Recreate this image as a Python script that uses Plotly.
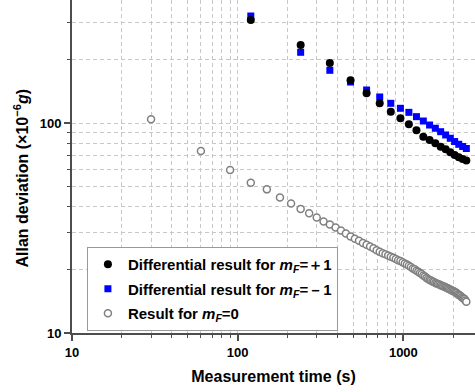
import plotly.graph_objects as go

# Measurement times (s)
tau_diff = [120, 240, 360, 480, 600, 720, 840, 960, 1080, 1200,
            1320, 1440, 1560, 1680, 1800, 1920, 2040, 2160, 2280, 2400]
tau_zero = [30 * (i + 1) for i in range(80)]

# Allan deviation (x1e-6 g)
adev_plus1 = [309.4, 235.2, 193.1, 159.7, 138.5, 124.1, 113.2, 105.3, 98.6, 92.3,
              86.1, 83.0, 80.0, 77.1, 74.9, 72.5, 70.4, 68.6, 67.4, 66.3]
adev_minus1 = [323.2, 217.1, 178.2, 156.7, 143.6, 133.0, 124.1, 117.5, 112.4, 107.2,
               102.2, 97.8, 94.4, 90.9, 87.7, 84.6, 81.6, 79.2, 77.3, 75.6]
adev_zero = [104.1, 73.6, 59.7, 52.0, 48.3, 44.2, 41.4, 39.0, 37.2, 35.5,
             34.0, 32.9, 31.8, 30.8, 29.8, 28.8, 28.1, 27.5, 26.8, 26.3,
             25.8, 25.3, 24.8, 24.4, 24.0, 23.7, 23.4, 23.1, 22.8, 22.5,
             22.2, 22.0, 21.7, 21.4, 21.2, 20.9, 20.6, 20.3, 20.1, 19.8,
             19.6, 19.3, 19.1, 18.8, 18.6, 18.3, 18.1, 17.9, 17.8, 17.6,
             17.5, 17.3, 17.2, 17.1, 17.0, 16.9, 16.8, 16.7, 16.6, 16.5,
             16.4, 16.3, 16.2, 16.1, 16.0, 15.9, 15.8, 15.7, 15.6, 15.5,
             15.3, 15.2, 15.1, 15.0, 14.8, 14.7, 14.6, 14.5, 14.3, 14.1]

names = ["Differential result for <i>m</i><sub><i>F</i></sub>=\uff0b1",
         "Differential result for <i>m</i><sub><i>F</i></sub>=\uff0d1",
         "Result for <i>m</i><sub><i>F</i></sub>=0"]

FONT = "Liberation Sans, Arial, sans-serif"

fig = go.Figure()
fig.add_trace(go.Scatter(x=tau_zero, y=adev_zero, mode="markers", name=names[2],
                         legendgroup="c", legendrank=3,
                         marker=dict(symbol="circle", size=7, color="white",
                                     line=dict(color="#808080", width=1.5))))
fig.add_trace(go.Scatter(x=tau_diff, y=adev_minus1, mode="markers", name=names[1],
                         legendgroup="b", legendrank=2,
                         marker=dict(symbol="square", size=7, color="#0000ff",
                                     line=dict(width=0))))
fig.add_trace(go.Scatter(x=tau_diff, y=adev_plus1, mode="markers", name=names[0],
                         legendgroup="a", legendrank=1,
                         marker=dict(symbol="circle", size=8, color="#000000",
                                     line=dict(width=0))))

axis_common = dict(
    type="log", showline=True, linecolor="#4d4d4d", linewidth=2,
    ticks="outside", ticklen=6, tickwidth=1.5, tickcolor="#4d4d4d",
    tickmode="linear", tick0=0, dtick=1, exponentformat="none",
    showgrid=True, gridcolor="#c8c8c8", gridwidth=1, griddash="4px,3px",
    tickfont=dict(family=FONT, size=13, color="black", weight="bold"),
    zeroline=False, automargin=False,
    minor=dict(dtick="D1", ticks="outside", ticklen=3, tickwidth=1,
               tickcolor="#4d4d4d", showgrid=True, gridcolor="#c8c8c8",
               gridwidth=1, griddash="4px,3px"),
)

fig.update_xaxes(range=[1, 3.4325],
                 title=dict(text="Measurement time (s)", standoff=12,
                            font=dict(family=FONT, size=16, color="black", weight="bold")),
                 **axis_common)
fig.update_yaxes(range=[1, 2.5857], **axis_common)

fig.add_annotation(text="Allan deviation (\u00d710<sup>\u22126</sup><i>g</i>)",
                   xref="paper", yref="paper", x=0, y=0.464, xshift=-50,
                   xanchor="center", yanchor="middle", textangle=-90, showarrow=False,
                   font=dict(family=FONT, size=16, color="black", weight="bold"))

fig.update_layout(
    width=475, height=392,
    margin=dict(l=72, r=0, t=0, b=59, autoexpand=False),
    paper_bgcolor="white", plot_bgcolor="white",
    showlegend=True,
    legend=dict(x=0.037, y=0.006, xanchor="left", yanchor="bottom",
                bgcolor="white", bordercolor="#999999", borderwidth=1,
                tracegroupgap=2, traceorder="grouped",
                font=dict(family=FONT, size=15, color="black", weight="bold")),
)

fig.write_html("out.html", config={"displayModeBar": False},
               post_script="document.body.style.margin='0';")
